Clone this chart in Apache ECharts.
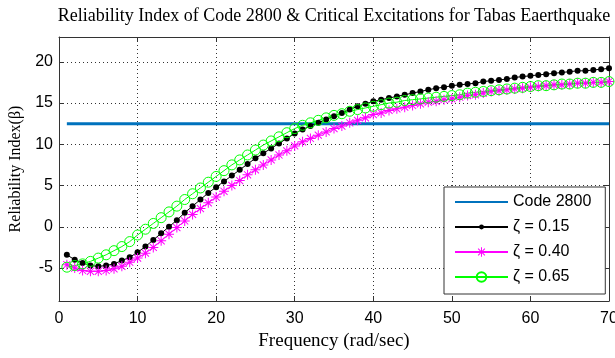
<!DOCTYPE html>
<html>
<head>
<meta charset="utf-8">
<script src="https://cdn.jsdelivr.net/npm/echarts@6/dist/echarts.min.js"></script>
<style>
  html, body { margin: 0; padding: 0; background: #fff; }
  #chart { width: 615px; height: 358px; }
</style>
</head>
<body>
<div id="chart"></div>
<script>
// frequency (rad/sec) of each computed point
const freq = [1,2,3,4,5,6,7,8,9,10,11,12,13,14,15,16,17,18,19,20,
  21,22,23,24,25,26,27,28,29,30,31,32,33,34,35,36,37,38,39,40,
  41,42,43,44,45,46,47,48,49,50,51,52,53,54,55,56,57,58,59,60,
  61,62,63,64,65,66,67,68,69,70];

// code 2800 reliability index (flat line)
const codeFreq = [1, 70];
const code2800 = [12.5, 12.5];

// critical excitation reliability index per damping ratio
const zeta015 = [-3.4,-4.0,-4.4,-4.7,-4.8,-4.7,-4.5,-4.1,-3.7,-3.1,
  -2.4,-1.6,-0.8,0.0,0.8,1.7,2.5,3.3,4.1,4.8,
  5.5,6.2,6.9,7.6,8.3,8.9,9.5,10.1,10.7,11.3,
  11.8,12.2,12.6,13.0,13.4,13.8,14.2,14.6,14.9,15.2,
  15.4,15.6,15.8,16.0,16.2,16.4,16.6,16.8,16.9,17.1,
  17.2,17.3,17.4,17.6,17.7,17.8,17.9,18.1,18.2,18.3,
  18.4,18.5,18.6,18.7,18.8,18.9,18.9,19.0,19.1,19.2];
const zeta040 = [-4.6,-5.0,-5.3,-5.4,-5.4,-5.3,-5.1,-4.8,-4.3,-3.8,
  -3.2,-2.5,-1.7,-0.9,-0.1,0.7,1.5,2.2,2.9,3.6,
  4.3,5.0,5.6,6.3,6.9,7.5,8.1,8.7,9.2,9.8,
  10.3,10.7,11.1,11.5,11.9,12.2,12.6,12.9,13.2,13.6,
  13.8,14.1,14.3,14.5,14.7,14.9,15.1,15.2,15.4,15.5,
  15.7,15.9,16.0,16.2,16.4,16.5,16.6,16.7,16.8,16.9,
  17.0,17.1,17.2,17.2,17.3,17.4,17.4,17.5,17.5,17.6];
const zeta065 = [-4.9,-4.7,-4.5,-4.2,-3.8,-3.4,-2.9,-2.4,-1.8,-1.0,
  -0.3,0.4,1.1,1.8,2.5,3.3,4.0,4.7,5.4,6.1,
  6.8,7.5,8.1,8.7,9.3,9.9,10.4,10.9,11.4,11.9,
  12.3,12.6,12.9,13.2,13.5,13.7,14.0,14.2,14.4,14.6,
  14.8,15.0,15.1,15.3,15.4,15.5,15.6,15.7,15.8,15.9,
  16.0,16.2,16.3,16.4,16.5,16.6,16.7,16.8,16.9,17.0,
  17.1,17.1,17.2,17.3,17.3,17.4,17.4,17.5,17.5,17.6];

const seriesNames = ['Code 2800', 'ζ = 0.15', 'ζ = 0.40', 'ζ = 0.65'];
const yTicks = [-5, 0, 5, 10, 15, 20];

const chart = echarts.init(document.getElementById('chart'));

const pair = (xs, ys) => xs.map((x, i) => [x, ys[i]]);
const sans = '"Liberation Sans", Arial, sans-serif';
const serif = '"Liberation Serif", "Times New Roman", serif';
const axisColor = '#333';
const gridDots = { show: true, lineStyle: { color: '#333', type: [1, 3], width: 1 } };
// matlab '.' marker: small dot inside a larger empty box so it stays small in the legend too
const dot = 'path://M0,0M10,10M5,2.5A2.5,2.5 0 1 1 5,7.5A2.5,2.5 0 1 1 5,2.5Z';
// matlab '*' marker
const asterisk = 'path://M-0.5,-5L0.5,-5L0.5,5L-0.5,5Z M-5,-0.5L5,-0.5L5,0.5L-5,0.5Z ' +
  'M-3.19,-3.89L3.89,3.19L3.19,3.89L-3.89,-3.19Z M-3.89,3.19L3.19,-3.89L3.89,-3.19L-3.19,3.89Z';
const clear = 'rgba(0,0,0,0)';

const xBase = {
  type: 'value', min: 0, max: 70, interval: 10,
  axisLine: { show: true, onZero: false, lineStyle: { color: axisColor } },
  axisTick: { show: true, inside: true, length: 5, lineStyle: { color: axisColor } }
};
const yBase = {
  type: 'value', min: -9, max: 23,
  axisLine: { show: true, onZero: false, lineStyle: { color: axisColor } },
  axisTick: { show: true, inside: true, length: 5, customValues: yTicks, lineStyle: { color: axisColor } }
};

chart.setOption({
  animation: false,
  backgroundColor: '#fff',
  graphic: [{
    type: 'text', x: 334, y: 16,
    style: {
      text: 'Reliability Index of Code 2800 & Critical Excitations for Tabas Eaerthquake',
      font: '18px ' + serif, fill: '#000', align: 'center', verticalAlign: 'middle'
    }
  }],
  grid: { left: 59, right: 6, top: 37, bottom: 57, outerBoundsMode: 'none' },
  legend: {
    orient: 'vertical', left: 444, top: 187,
    padding: [7, 14, 9, 10],
    itemWidth: 53, itemHeight: 12, itemGap: 9,
    backgroundColor: '#fff', borderColor: '#333', borderWidth: 1, borderRadius: 0,
    textStyle: { fontFamily: sans, fontSize: 16, lineHeight: 16, color: '#000' },
    data: [
      { name: seriesNames[0], itemStyle: { color: clear, borderColor: clear, borderWidth: 0 } },
      seriesNames[1], seriesNames[2], seriesNames[3]
    ]
  },
  xAxis: [
    Object.assign({}, xBase, {
      position: 'bottom',
      name: 'Frequency (rad/sec)', nameLocation: 'middle', nameGap: 30,
      nameTextStyle: { fontFamily: serif, fontSize: 19, color: '#000' },
      axisLabel: { margin: 10, fontFamily: sans, fontSize: 16, color: '#000' },
      splitLine: gridDots
    }),
    Object.assign({}, xBase, {
      position: 'top', axisLabel: { show: false }, splitLine: { show: false }
    })
  ],
  yAxis: [
    Object.assign({}, yBase, {
      position: 'left',
      name: 'Reliability Index(β)', nameLocation: 'middle', nameGap: 35,
      nameTextStyle: { fontFamily: serif, fontSize: 16, color: '#000' },
      axisLabel: { customValues: yTicks, margin: 6, fontFamily: sans, fontSize: 16, color: '#000' },
      splitLine: gridDots
    }),
    Object.assign({}, yBase, {
      position: 'right', axisLabel: { show: false }, splitLine: { show: false }
    })
  ],
  series: [
    {
      name: seriesNames[0], type: 'line', data: pair(codeFreq, code2800),
      symbol: 'none', lineStyle: { width: 3, color: '#0072BD' }, itemStyle: { color: '#0072BD' }
    },
    {
      name: seriesNames[1], type: 'line', data: pair(freq, zeta015),
      symbol: dot, symbolSize: 12,
      lineStyle: { width: 1, color: '#000' }, itemStyle: { color: '#000' }
    },
    {
      name: seriesNames[2], type: 'line', data: pair(freq, zeta040),
      symbol: asterisk, symbolSize: 10,
      lineStyle: { width: 1, color: '#FF00FF' }, itemStyle: { color: '#FF00FF' }
    },
    {
      name: seriesNames[3], type: 'line', data: pair(freq, zeta065),
      symbol: 'circle', symbolSize: 10,
      lineStyle: { width: 1, color: '#00FF00' },
      itemStyle: { color: clear, borderColor: '#00FF00', borderWidth: 1 }
    }
  ]
});
</script>
</body>
</html>
